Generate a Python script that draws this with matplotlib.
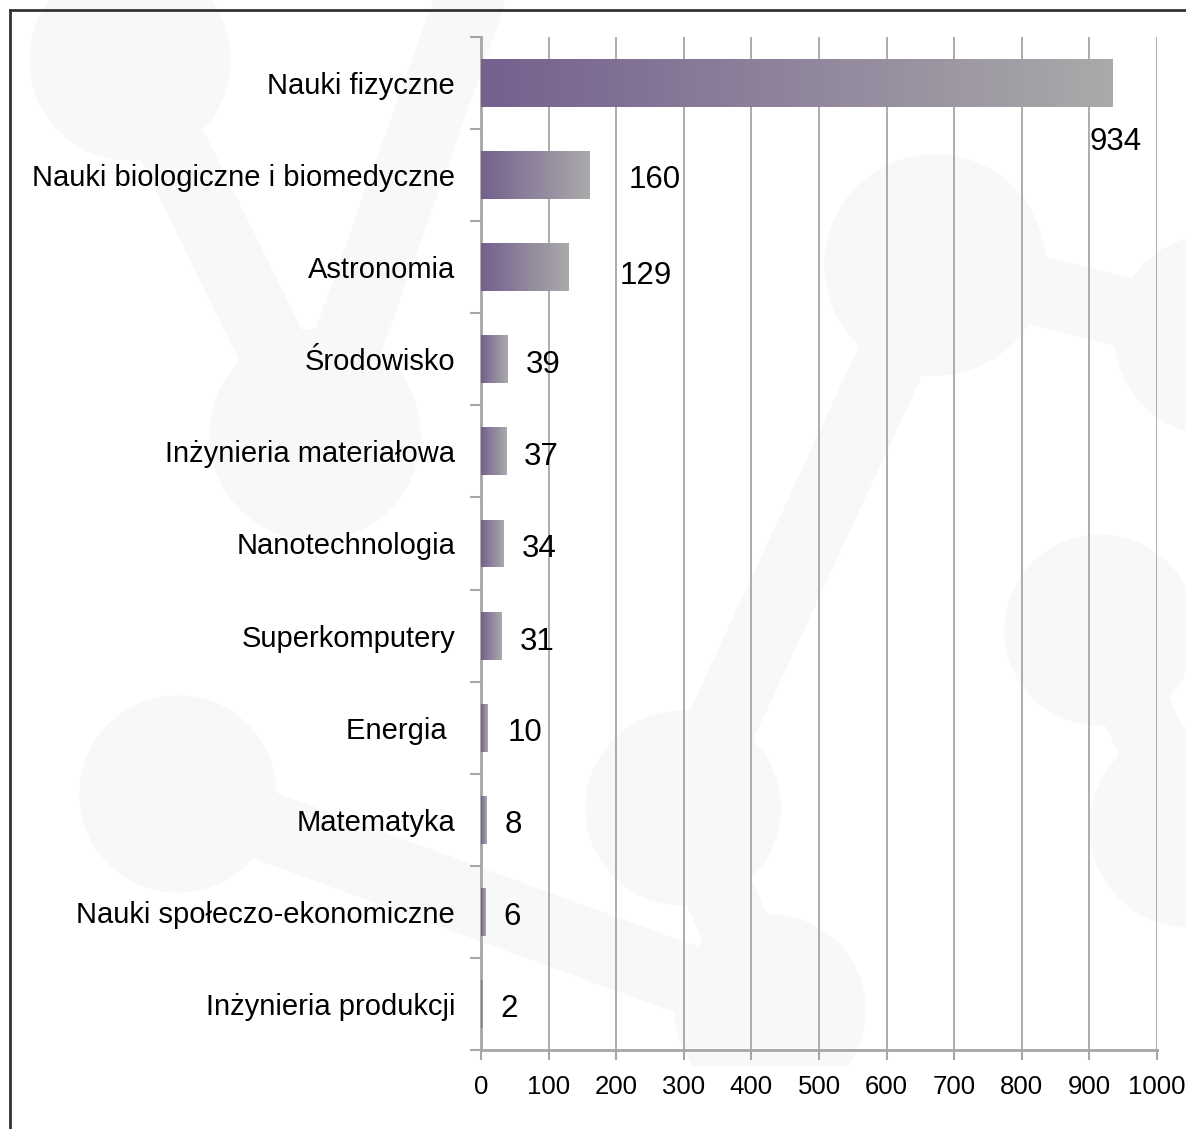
import numpy as np
import matplotlib.pyplot as plt
from matplotlib.colors import LinearSegmentedColormap
from matplotlib.patches import Circle

plt.rcParams['font.family'] = ['Liberation Sans', 'DejaVu Sans']

categories = ['Nauki fizyczne', 'Nauki biologiczne i biomedyczne', 'Astronomia',
              'Środowisko', 'Inżynieria materiałowa', 'Nanotechnologia',
              'Superkomputery', 'Energia ', 'Matematyka',
              'Nauki społeczo-ekonomiczne', 'Inżynieria produkcji']
values = [934, 160, 129, 39, 37, 34, 31, 10, 8, 6, 2]
xticks = [0, 100, 200, 300, 400, 500, 600, 700, 800, 900, 1000]

# label offsets from the bar end, in pixels (hand placed in the original)
label_dx = [-23, 39, 51, 18, 18, 18, 18, 20, 18, 18, 18]
label_dy = [-55, -1, -5, -2, -2, -2, -3, -2, -2, -2, -2]

fig = plt.figure(figsize=(11.86, 11.29), dpi=100)

# faint molecule watermark behind the chart
bg = fig.add_axes([30 / 1186, 1 - 1066 / 1129, 1 - 30 / 1186, 1066 / 1129])
bg.set_xlim(30, 1186)
bg.set_ylim(1066, 0)
bg.axis('off')
wm = '#f7f8f8'
for (x0, y0), (x1, y1) in [((130, 60), (315, 435)), ((178, 794), (770, 1010)),
                           ((683, 808), (770, 1010)), ((683, 808), (935, 265)),
                           ((315, 435), (470, 0)), ((935, 265), (1215, 335)),
                           ((1100, 630), (1190, 827))]:
    bg.plot([x0, x1], [y0, y1], color=wm, lw=50, solid_capstyle='round', zorder=0)
for cx, cy, r in [(130, 60, 100), (935, 265, 110), (1215, 335, 100), (315, 435, 105),
                  (178, 794, 98), (683, 808, 97), (770, 1010, 95), (1190, 827, 100),
                  (1100, 630, 95)]:
    bg.add_patch(Circle((cx, cy), r, color=wm, zorder=0))

# outer border
fig.add_artist(plt.Line2D([9.5 / 1186, 9.5 / 1186], [0, 1 - 9.5 / 1129], color='#333333', lw=2))
fig.add_artist(plt.Line2D([9.5 / 1186, 1], [1 - 9.5 / 1129, 1 - 9.5 / 1129], color='#333333', lw=2))

ax = fig.add_axes([481 / 1186, 1 - 1050 / 1129, (1157 - 481) / 1186, (1050 - 37) / 1129])
ax.set_facecolor('none')

y = np.arange(len(categories))
bars = ax.barh(y, values, height=0.52, color='#8f8499', zorder=3)

cmap = LinearSegmentedColormap.from_list('grad', ['#75608e', '#aaaaaa'])
grad = np.linspace(0, 1, 256).reshape(1, -1)
for b in bars:
    x0, y0 = b.get_x(), b.get_y()
    im = ax.imshow(grad, cmap=cmap, aspect='auto', zorder=4,
                   extent=[x0, x0 + b.get_width(), y0 + b.get_height(), y0])
    im.set_clip_path(b)

for i, v in enumerate(values):
    ax.annotate(str(v), xy=(v, i), xytext=(label_dx[i] * 0.72, label_dy[i] * 0.72),
                textcoords='offset points', ha='left', va='center_baseline',
                fontsize=22.5, color='black', zorder=5)

ax.set_xlim(0, 1000)
ax.set_ylim(len(categories) - 0.5, -0.5)
ax.set_xticks(xticks)
ax.set_yticks(y)
ax.set_yticklabels(categories)
ax.set_yticks(np.arange(len(categories) + 1) - 0.5, minor=True)

grid_c = '#a6a6a6'
ax.grid(axis='x', color=grid_c, lw=1.3, zorder=1)
for s in ['top', 'right']:
    ax.spines[s].set_visible(False)
for s in ['left', 'bottom']:
    ax.spines[s].set_color(grid_c)
    ax.spines[s].set_linewidth(2)
    ax.spines[s].set_zorder(2)

ax.tick_params(axis='y', which='major', length=0, pad=18.7, labelsize=21)
ax.tick_params(axis='y', which='minor', length=8, width=1.5, color=grid_c)
ax.tick_params(axis='x', length=7, width=1.5, color=grid_c, pad=11, labelsize=18.5)

fig.savefig('out.png', dpi=100)
